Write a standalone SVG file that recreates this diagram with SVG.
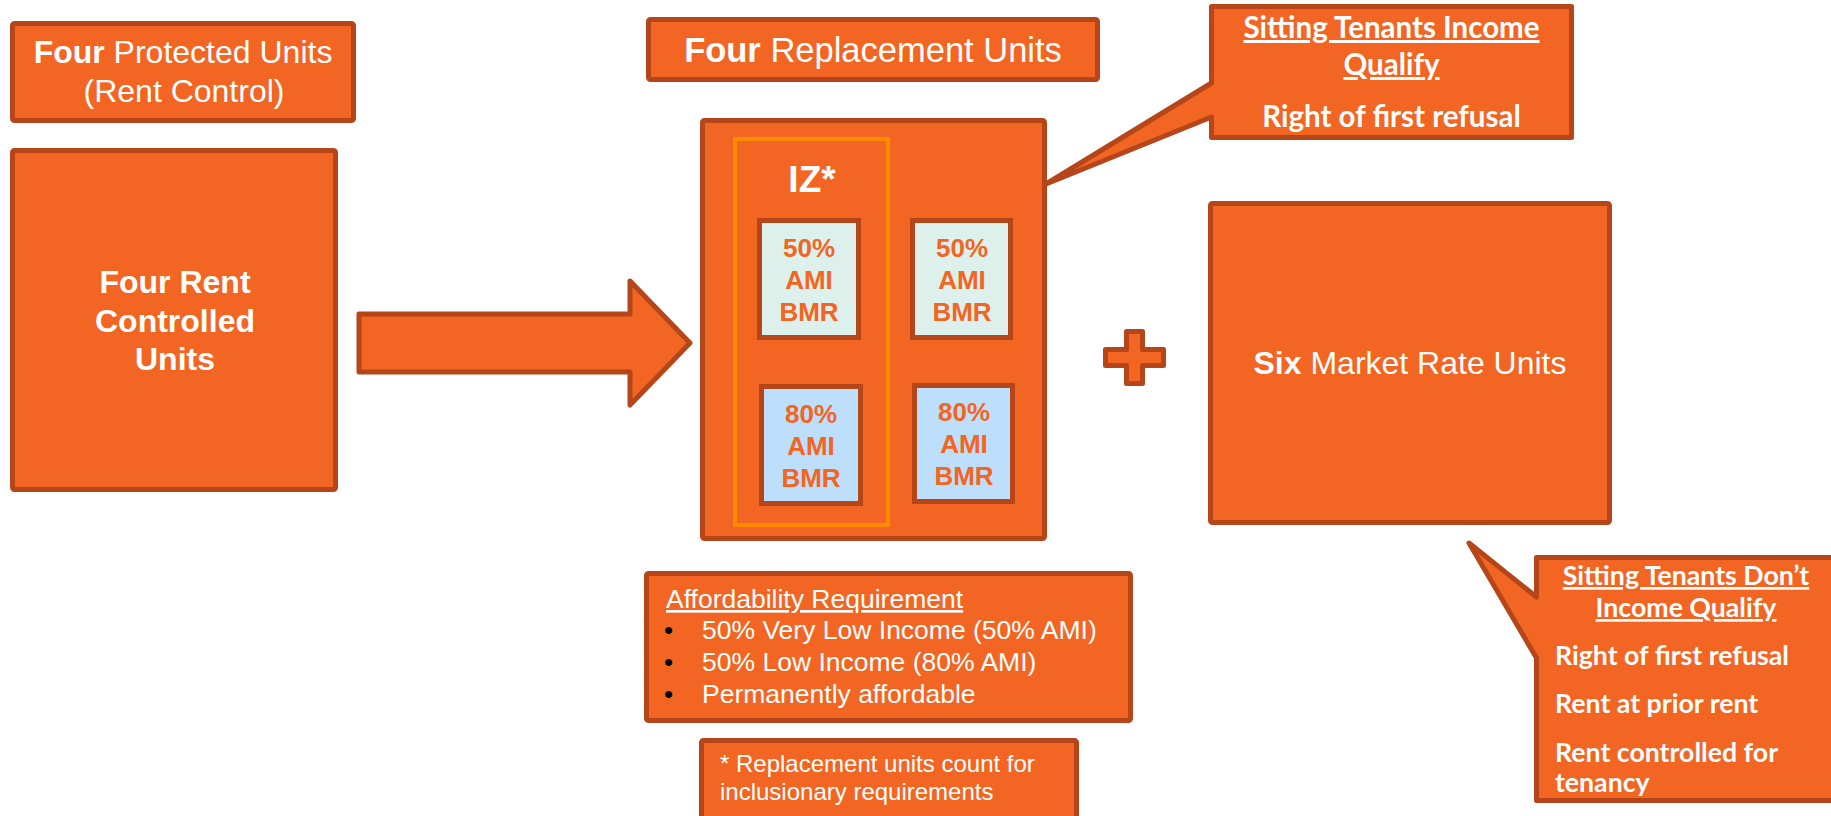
<svg xmlns="http://www.w3.org/2000/svg" width="1831" height="816" viewBox="0 0 1831 816">
<style>
.box{fill:#F26522;stroke:#B4461A;stroke-width:5;stroke-linejoin:round}
.t{font-family:"Liberation Sans",Arial,sans-serif;fill:#FFFFFF}
.b{font-weight:700}
.unit{stroke:#B4461A;stroke-width:5}
.ut{font-family:"Liberation Sans",Arial,sans-serif;font-weight:700;font-size:26px;fill:#F26522;text-anchor:middle}
.c{font-family:Lato,"Liberation Sans",sans-serif;fill:#FFFFFF;font-weight:700}
</style>
<rect width="1831" height="816" fill="#FFFFFF"/>
<g id="protected-label">
<rect class="box" x="12.5" y="23.5" width="341" height="97" rx="2"/>
<text class="t" font-size="32" text-anchor="middle" x="183" y="63"><tspan class="b">Four</tspan> Protected Units</text>
<text class="t" font-size="32" text-anchor="middle" x="184" y="102">(Rent Control)</text>
</g>
<g id="rent-controlled">
<rect class="box" x="12.5" y="150.5" width="323" height="339" rx="2"/>
<text class="t b" font-size="32" text-anchor="middle" x="175" y="293">Four Rent</text>
<text class="t b" font-size="32" text-anchor="middle" x="175" y="332">Controlled</text>
<text class="t b" font-size="32" text-anchor="middle" x="175" y="370">Units</text>
</g>
<g id="connectors">
<polygon class="box" points="359,314 630,314 630,281 690,343 630,405 630,372 359,372"/>
<path class="box" d="M1105.5,349.5 H1126.5 V331.5 H1142.5 V349.5 H1163.5 V365.5 H1142.5 V383.5 H1126.5 V365.5 H1105.5 Z"/>
</g>
<g id="replacement-label">
<rect class="box" x="648.5" y="19.5" width="449" height="60" rx="2"/>
<text class="t" font-size="34.5" text-anchor="middle" x="873" y="62"><tspan class="b">Four</tspan> Replacement Units</text>
</g>
<g id="replacement-units">
<rect class="box" x="702.5" y="120.5" width="342" height="418" rx="2"/>
<rect x="735" y="139" width="153" height="386" fill="none" stroke="#FF8C00" stroke-width="4"/>
<text class="t b" font-size="37" text-anchor="middle" x="812" y="192">IZ*</text>
</g>
<g id="unit-50-a">
<rect class="unit" x="759.5" y="220.5" width="99" height="117" fill="#DDF0EC"/>
<text class="ut" x="809" y="257">50%</text><text class="ut" x="809" y="289">AMI</text><text class="ut" x="809" y="321">BMR</text>
</g>
<g id="unit-50-b">
<rect class="unit" x="912.5" y="220.5" width="98" height="117" fill="#DDF0EC"/>
<text class="ut" x="962" y="257">50%</text><text class="ut" x="962" y="289">AMI</text><text class="ut" x="962" y="321">BMR</text>
</g>
<g id="unit-80-a">
<rect class="unit" x="761.5" y="386.5" width="99" height="117" fill="#BDDFFB"/>
<text class="ut" x="811" y="423">80%</text><text class="ut" x="811" y="455">AMI</text><text class="ut" x="811" y="487">BMR</text>
</g>
<g id="unit-80-b">
<rect class="unit" x="914.5" y="385.5" width="98" height="116" fill="#BDDFFB"/>
<text class="ut" x="964" y="421">80%</text><text class="ut" x="964" y="453">AMI</text><text class="ut" x="964" y="485">BMR</text>
</g>
<g id="market-rate">
<rect class="box" x="1210.5" y="203.5" width="399" height="319" rx="2"/>
<text class="t" font-size="32" text-anchor="middle" x="1410" y="374"><tspan class="b">Six</tspan> Market Rate Units</text>
</g>
<g id="callout-qualify">
<path class="box" d="M1211.5,6.5 H1571.5 V137.5 H1211.5 V117 L1046,184 L1211.5,83 Z"/>
<text class="c" font-size="29.5" text-anchor="middle" x="1391.5" y="38" text-decoration="underline">Sitting Tenants Income</text>
<text class="c" font-size="29.5" text-anchor="middle" x="1391.5" y="75" text-decoration="underline">Qualify</text>
<text class="c" font-size="29.5" text-anchor="middle" x="1391.5" y="127">Right of first refusal</text>
</g>
<g id="callout-not-qualify">
<path class="box" d="M1536.5,557.5 H1840 V800.5 H1536.5 V658 L1469,543 L1536.5,597 Z"/>
<text class="c" font-size="26.7" text-anchor="middle" x="1686" y="585" text-decoration="underline">Sitting Tenants Don’t</text>
<text class="c" font-size="26.7" text-anchor="middle" x="1686" y="617" text-decoration="underline">Income Qualify</text>
<text class="c" font-size="26.7" x="1555" y="665">Right of first refusal</text>
<text class="c" font-size="26.7" x="1555" y="713">Rent at prior rent</text>
<text class="c" font-size="26.7" x="1555" y="762">Rent controlled for</text>
<text class="c" font-size="26.7" x="1555" y="792">tenancy</text>
</g>
<g id="affordability">
<rect class="box" x="646.5" y="573.5" width="484" height="147" rx="2"/>
<text class="t" font-size="26.5" x="666" y="608" text-decoration="underline">Affordability Requirement</text>
<text font-family="Liberation Sans,Arial,sans-serif" font-size="26" fill="#000000" x="664" y="639">•</text>
<text font-family="Liberation Sans,Arial,sans-serif" font-size="26" fill="#000000" x="664" y="671">•</text>
<text font-family="Liberation Sans,Arial,sans-serif" font-size="26" fill="#000000" x="664" y="703">•</text>
<text class="t" font-size="26.5" x="702" y="639">50% Very Low Income (50% AMI)</text>
<text class="t" font-size="26.5" x="702" y="671">50% Low Income (80% AMI)</text>
<text class="t" font-size="26.5" x="702" y="703">Permanently affordable</text>
</g>
<g id="footnote">
<rect class="box" x="701.5" y="740.5" width="375" height="100" rx="2"/>
<text class="t" font-size="24" x="720" y="772">* Replacement units count for</text>
<text class="t" font-size="24" x="720" y="800">inclusionary requirements</text>
</g>
</svg>
